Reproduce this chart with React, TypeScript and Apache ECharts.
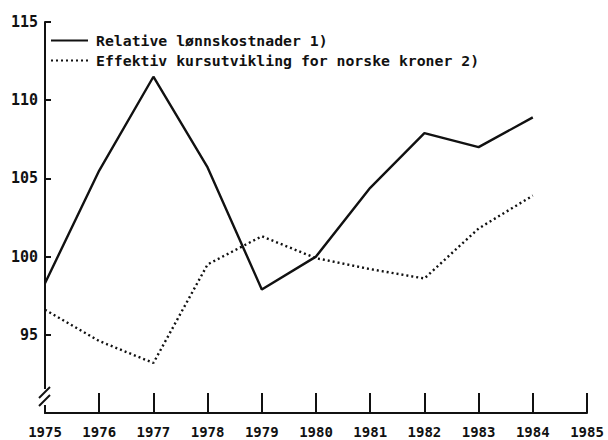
import React, { useEffect, useRef } from "react";
import * as echarts from "echarts";

const years = [1975, 1976, 1977, 1978, 1979, 1980, 1981, 1982, 1983, 1984];
const lonnskostnader = [98.3, 105.5, 111.5, 105.7, 97.9, 100.0, 104.4, 107.9, 107.0, 108.9];
const kursutvikling = [96.6, 94.6, 93.2, 99.5, 101.3, 99.9, 99.2, 98.6, 101.8, 103.9];
const yTickValues = [95, 100, 105, 110, 115];
const seriesNames = ["Relative lønnskostnader 1)", "Effektiv kursutvikling for norske kroner 2)"];

const FONT = "'DejaVu Sans Mono', 'Liberation Mono', monospace";
const INK = "#111111";

export default function App() {
  const ref = useRef<HTMLDivElement>(null);
  useEffect(() => {
    if (!ref.current) return;
    const chart = echarts.init(ref.current, null, { renderer: "svg" });
    chart.setOption({
      animation: false,
      backgroundColor: "#ffffff",
      grid: { left: 45, right: 21, top: 22, bottom: 27, containLabel: false },
      legend: {
        orient: "vertical",
        left: 50,
        top: 33,
        padding: 0,
        itemWidth: 37,
        itemHeight: 14,
        itemGap: 5,
        itemStyle: { opacity: 0, borderWidth: 0 },
        textStyle: { fontFamily: FONT, fontSize: 14.8, fontWeight: "bold", color: INK, padding: [0, 0, 0, 3] },
        data: seriesNames,
      },
      xAxis: {
        type: "value",
        min: 1975,
        max: 1985,
        interval: 1,
        axisLine: { lineStyle: { color: INK, width: 2 } },
        axisTick: { inside: true, length: 20, lineStyle: { color: INK, width: 2 } },
        axisLabel: {
          fontFamily: FONT,
          fontSize: 14,
          fontWeight: "bold",
          color: INK,
          margin: 12,
          formatter: (v: number) => String(v),
        },
        splitLine: { show: false },
      },
      yAxis: {
        type: "value",
        min: 90,
        max: 115,
        interval: 5,
        axisLine: { show: true, lineStyle: { color: INK, width: 2 } },
        axisTick: { show: true, inside: true, length: 6, customValues: yTickValues, lineStyle: { color: INK, width: 2 } },
        axisLabel: {
          fontFamily: FONT,
          fontSize: 15,
          fontWeight: "bold",
          color: INK,
          margin: 7,
          customValues: yTickValues,
        },
        splitLine: { show: false },
      },
      series: [
        {
          name: seriesNames[0],
          type: "line",
          symbol: "none",
          data: years.map((y, i) => [y, lonnskostnader[i]]),
          lineStyle: { color: INK, width: 2.4, type: "solid" },
          itemStyle: { color: INK },
        },
        {
          name: seriesNames[1],
          type: "line",
          symbol: "none",
          data: years.map((y, i) => [y, kursutvikling[i]]),
          lineStyle: { color: INK, width: 2.4, type: [2, 3] },
          itemStyle: { color: INK },
        },
      ],
      graphic: [
        { type: "rect", shape: { x: 42, y: 389, width: 6, height: 16 }, style: { fill: "#ffffff" }, z: 100 },
        { type: "line", shape: { x1: 39, y1: 398, x2: 50, y2: 387 }, style: { stroke: INK, lineWidth: 2 }, z: 101 },
        { type: "line", shape: { x1: 39, y1: 406, x2: 50, y2: 395 }, style: { stroke: INK, lineWidth: 2 }, z: 101 },
      ],
    });
    return () => chart.dispose();
  }, []);
  return (
    <div
      ref={ref}
      style={{ position: "fixed", left: 0, top: 0, width: 608, height: 440, background: "#fff" }}
    />
  );
}
